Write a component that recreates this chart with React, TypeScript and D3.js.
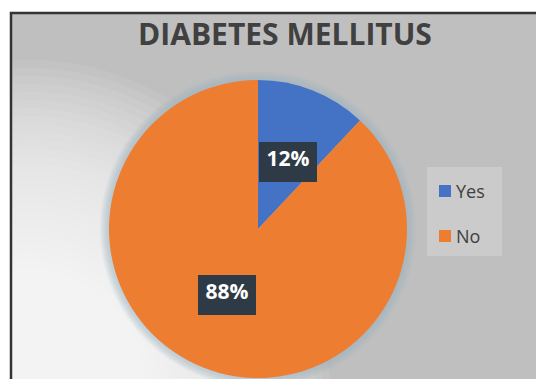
import React from "react";
import * as d3 from "d3";

const categories = ["Yes", "No"];
const values = [12, 88];
const colors = ["#4472C4", "#ED7D31"];
const title = "DIABETES MELLITUS";

export default function App() {
  const W = 536, H = 379;
  const cx = 258, cy = 229, r = 149;
  const pie = d3.pie<number>().sort(null).value((d) => d)(values);
  const arc = d3.arc<d3.PieArcDatum<number>>().innerRadius(0).outerRadius(r);
  const total = d3.sum(values);
  const labelPos = [
    { x: 288, y: 162 },
    { x: 227, y: 295 },
  ];
  const glowSteps = d3.range(40);
  const shadowSteps = d3.range(8);
  return (
    <div style={{ position: "fixed", left: 0, top: 0, width: W, height: H, background: "#fff" }}>
      <svg width={W} height={H} style={{ display: "block" }}>
        <defs>
          <clipPath id="plotClip">
            <rect x={11} y={13} width={W - 11} height={H - 13} />
          </clipPath>
        </defs>
        <rect x={11} y={13} width={W} height={H} fill="#bfbfbf" />
        <g clipPath="url(#plotClip)">
          {glowSteps.map((s) => (
            <ellipse key={s} cx={30} cy={400} rx={300 - s * 7} ry={340 - s * 8} fill="#ffffff" opacity={0.075} />
          ))}
        </g>
        <path d={`M11,${H} V13 H${W}`} fill="none" stroke="#333" strokeWidth={2.5} />
        <text x={285} y={45} textAnchor="middle" fontFamily="Open Sans" fontWeight={700} fontSize={30} fill="#404040">
          {title}
        </text>
        <g transform={`translate(${cx},${cy})`}>
          {shadowSteps.map((s) => (
            <circle key={s} r={r + 9 - s} fill="#9fb0c2" opacity={0.08} />
          ))}
          {pie.map((p, i) => (
            <path key={categories[i]} d={arc(p) || ""} fill={colors[i]} />
          ))}
        </g>
        {pie.map((p, i) => {
          const pos = labelPos[i];
          const t = `${Math.round((values[i] / total) * 100)}%`;
          return (
            <g key={"l" + i} transform={`translate(${pos.x},${pos.y})`}>
              <rect x={-29} y={-20} width={58} height={40} fill="#2e3b46" />
              <text x={0} y={4} textAnchor="middle" fontFamily="Open Sans" fontWeight={700} fontSize={21} fill="#fff">
                {t}
              </text>
            </g>
          );
        })}
        <rect x={427} y={167} width={75} height={89} fill="#cbcbcb" />
        {categories.map((c, i) => (
          <g key={c} transform={`translate(439,${191 + i * 45})`}>
            <rect x={0} y={-6} width={12} height={12} fill={colors[i]} />
            <text x={17} y={7} fontFamily="Open Sans" fontSize={18} fill="#404040">
              {c}
            </text>
          </g>
        ))}
      </svg>
    </div>
  );
}
